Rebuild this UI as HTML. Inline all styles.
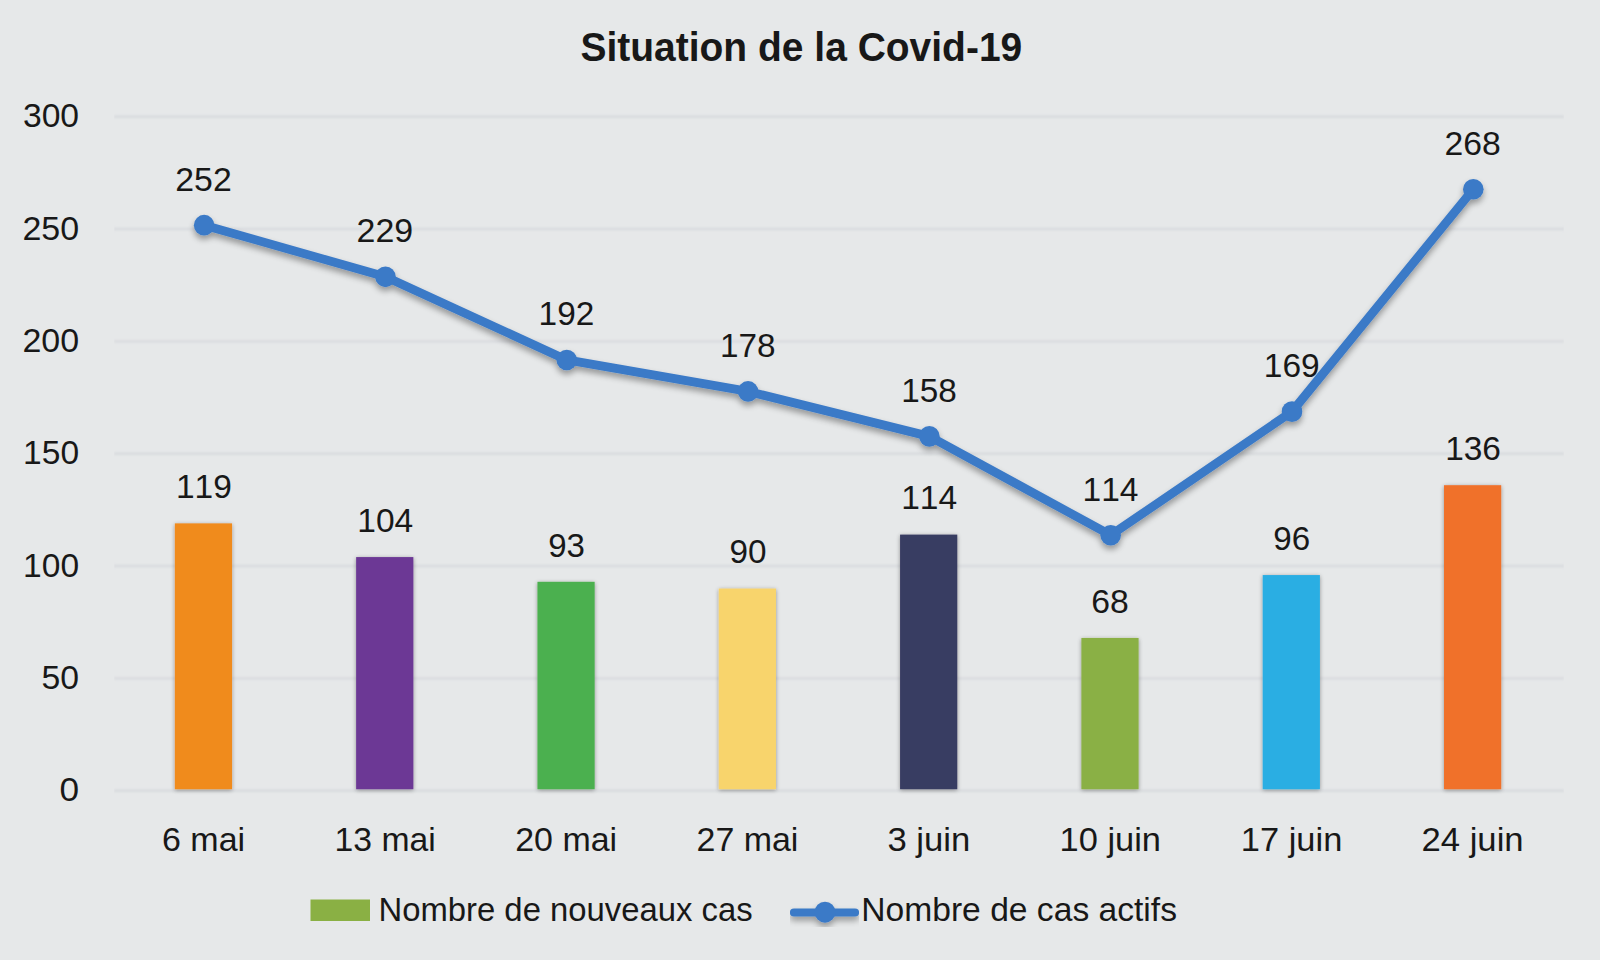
<!DOCTYPE html>
<html><head><meta charset="utf-8"><title>Situation de la Covid-19</title>
<style>
html,body{margin:0;padding:0;background:#E6E8E9;}
body{width:1600px;height:960px;overflow:hidden;}
svg{display:block;}
text{font-family:"Liberation Sans",Arial,sans-serif;fill:#181818;font-kerning:none;}
</style></head><body>
<svg width="1600" height="960" viewBox="0 0 1600 960">
<defs>
<filter id="lsh" x="-5%" y="-20%" width="110%" height="140%">
<feGaussianBlur in="SourceAlpha" stdDeviation="3.2"/>
<feOffset dx="0" dy="4" result="b"/>
<feComponentTransfer><feFuncA type="linear" slope="0.36"/></feComponentTransfer>
<feMerge><feMergeNode/><feMergeNode in="SourceGraphic"/></feMerge>
</filter>
<filter id="gbl" x="0" y="-200%" width="100%" height="500%"><feGaussianBlur stdDeviation="0.9"/></filter>
<filter id="bsh" x="-30%" y="-10%" width="160%" height="120%">
<feGaussianBlur in="SourceAlpha" stdDeviation="2.2"/>
<feOffset dx="-0.5" dy="0.5" result="b"/>
<feComponentTransfer><feFuncA type="linear" slope="0.38"/></feComponentTransfer>
<feMerge><feMergeNode/><feMergeNode in="SourceGraphic"/></feMerge>
</filter>
</defs>
<rect width="1600" height="960" fill="#E6E8E9"/>

<g stroke="#D8DADE" stroke-width="2.4" filter="url(#gbl)">
<line x1="114" y1="790.75" x2="1564" y2="790.75"/>
<line x1="114" y1="678.41" x2="1564" y2="678.41"/>
<line x1="114" y1="566.07" x2="1564" y2="566.07"/>
<line x1="114" y1="453.73" x2="1564" y2="453.73"/>
<line x1="114" y1="341.39" x2="1564" y2="341.39"/>
<line x1="114" y1="229.05" x2="1564" y2="229.05"/>
<line x1="114" y1="116.71" x2="1564" y2="116.71"/>
</g>
<g filter="url(#bsh)">
<rect x="174.84" y="523.38" width="57.2" height="265.87" fill="#F08B1F"/>
<rect x="356.15" y="557.08" width="57.2" height="232.17" fill="#6C3895"/>
<rect x="537.46" y="581.80" width="57.2" height="207.45" fill="#4CB04F"/>
<rect x="718.77" y="588.54" width="57.2" height="200.71" fill="#F8D46C"/>
<rect x="900.08" y="534.61" width="57.2" height="254.64" fill="#383C62"/>
<rect x="1081.39" y="637.97" width="57.2" height="151.28" fill="#8AB044"/>
<rect x="1262.70" y="575.06" width="57.2" height="214.19" fill="#2BAEE3"/>
<rect x="1444.01" y="485.19" width="57.2" height="304.06" fill="#F0712A"/>
</g>
<g filter="url(#lsh)"><polyline points="204.14,225.16 385.45,276.83 566.76,359.96 748.07,391.42 929.38,436.36 1110.69,535.21 1292.00,411.64 1473.31,189.21" fill="none" stroke="#3B7AC7" stroke-width="8.8" stroke-linejoin="round" stroke-linecap="round"/>
<circle cx="204.14" cy="225.16" r="10.3" fill="#3B7AC7"/>
<circle cx="385.45" cy="276.83" r="10.3" fill="#3B7AC7"/>
<circle cx="566.76" cy="359.96" r="10.3" fill="#3B7AC7"/>
<circle cx="748.07" cy="391.42" r="10.3" fill="#3B7AC7"/>
<circle cx="929.38" cy="436.36" r="10.3" fill="#3B7AC7"/>
<circle cx="1110.69" cy="535.21" r="10.3" fill="#3B7AC7"/>
<circle cx="1292.00" cy="411.64" r="10.3" fill="#3B7AC7"/>
<circle cx="1473.31" cy="189.21" r="10.3" fill="#3B7AC7"/>
</g>
<rect x="310.5" y="899.5" width="59.5" height="21.5" fill="#8AB044"/>
<g filter="url(#lsh)"><line x1="794" y1="912.5" x2="855" y2="912.5" stroke="#3B7AC7" stroke-width="8.2" stroke-linecap="round"/><circle cx="825" cy="912.2" r="10.5" fill="#3B7AC7"/></g>
<g>
<text x="580.48" y="60.50" font-size="40.70" font-weight="bold" textLength="441.77" lengthAdjust="spacingAndGlyphs">Situation de la Covid-19</text>
<text x="59.59" y="801.45" font-size="33.49" font-weight="normal" textLength="19.59" lengthAdjust="spacingAndGlyphs">0</text>
<text x="41.58" y="689.11" font-size="33.49" font-weight="normal" textLength="37.54" lengthAdjust="spacingAndGlyphs">50</text>
<text x="23.14" y="576.77" font-size="33.49" font-weight="normal" textLength="55.97" lengthAdjust="spacingAndGlyphs">100</text>
<text x="23.14" y="464.43" font-size="33.49" font-weight="normal" textLength="55.97" lengthAdjust="spacingAndGlyphs">150</text>
<text x="22.45" y="352.09" font-size="33.49" font-weight="normal" textLength="56.67" lengthAdjust="spacingAndGlyphs">200</text>
<text x="22.45" y="239.75" font-size="33.49" font-weight="normal" textLength="56.67" lengthAdjust="spacingAndGlyphs">250</text>
<text x="22.93" y="127.41" font-size="33.49" font-weight="normal" textLength="56.18" lengthAdjust="spacingAndGlyphs">300</text>
<text x="161.93" y="850.50" font-size="33.49" font-weight="normal" textLength="83.21" lengthAdjust="spacingAndGlyphs">6 mai</text>
<text x="334.56" y="850.50" font-size="33.49" font-weight="normal" textLength="101.24" lengthAdjust="spacingAndGlyphs">13 mai</text>
<text x="515.19" y="850.50" font-size="33.49" font-weight="normal" textLength="101.93" lengthAdjust="spacingAndGlyphs">20 mai</text>
<text x="696.50" y="850.50" font-size="33.49" font-weight="normal" textLength="101.93" lengthAdjust="spacingAndGlyphs">27 mai</text>
<text x="887.40" y="850.50" font-size="33.49" font-weight="normal" textLength="82.94" lengthAdjust="spacingAndGlyphs">3 juin</text>
<text x="1059.52" y="850.50" font-size="33.49" font-weight="normal" textLength="101.50" lengthAdjust="spacingAndGlyphs">10 juin</text>
<text x="1240.83" y="850.50" font-size="33.49" font-weight="normal" textLength="101.50" lengthAdjust="spacingAndGlyphs">17 juin</text>
<text x="1421.48" y="850.50" font-size="33.49" font-weight="normal" textLength="102.17" lengthAdjust="spacingAndGlyphs">24 juin</text>
<text x="175.95" y="498.08" font-size="33.49" font-weight="normal" textLength="55.94" lengthAdjust="spacingAndGlyphs">119</text>
<text x="357.26" y="531.78" font-size="33.49" font-weight="normal" textLength="55.99" lengthAdjust="spacingAndGlyphs">104</text>
<text x="548.13" y="556.50" font-size="33.49" font-weight="normal" textLength="36.73" lengthAdjust="spacingAndGlyphs">93</text>
<text x="729.42" y="563.24" font-size="33.49" font-weight="normal" textLength="37.04" lengthAdjust="spacingAndGlyphs">90</text>
<text x="901.19" y="509.31" font-size="33.49" font-weight="normal" textLength="55.99" lengthAdjust="spacingAndGlyphs">114</text>
<text x="1091.19" y="612.67" font-size="33.49" font-weight="normal" textLength="37.54" lengthAdjust="spacingAndGlyphs">68</text>
<text x="1273.36" y="549.76" font-size="33.49" font-weight="normal" textLength="36.87" lengthAdjust="spacingAndGlyphs">96</text>
<text x="1445.13" y="459.89" font-size="33.49" font-weight="normal" textLength="55.80" lengthAdjust="spacingAndGlyphs">136</text>
<text x="175.27" y="190.66" font-size="33.49" font-weight="normal" textLength="56.43" lengthAdjust="spacingAndGlyphs">252</text>
<text x="356.58" y="242.33" font-size="33.49" font-weight="normal" textLength="56.65" lengthAdjust="spacingAndGlyphs">229</text>
<text x="538.58" y="325.46" font-size="33.49" font-weight="normal" textLength="55.71" lengthAdjust="spacingAndGlyphs">192</text>
<text x="719.90" y="356.92" font-size="33.49" font-weight="normal" textLength="55.56" lengthAdjust="spacingAndGlyphs">178</text>
<text x="901.21" y="401.86" font-size="33.49" font-weight="normal" textLength="55.56" lengthAdjust="spacingAndGlyphs">158</text>
<text x="1082.50" y="500.71" font-size="33.49" font-weight="normal" textLength="55.99" lengthAdjust="spacingAndGlyphs">114</text>
<text x="1263.81" y="377.14" font-size="33.49" font-weight="normal" textLength="55.94" lengthAdjust="spacingAndGlyphs">169</text>
<text x="1444.45" y="154.71" font-size="33.49" font-weight="normal" textLength="56.28" lengthAdjust="spacingAndGlyphs">268</text>
<text x="378.51" y="921.20" font-size="33.14" font-weight="normal" textLength="374.08" lengthAdjust="spacingAndGlyphs">Nombre de nouveaux cas</text>
<text x="861.24" y="921.20" font-size="33.14" font-weight="normal" textLength="315.77" lengthAdjust="spacingAndGlyphs">Nombre de cas actifs</text>
</g>
</svg></body></html>
